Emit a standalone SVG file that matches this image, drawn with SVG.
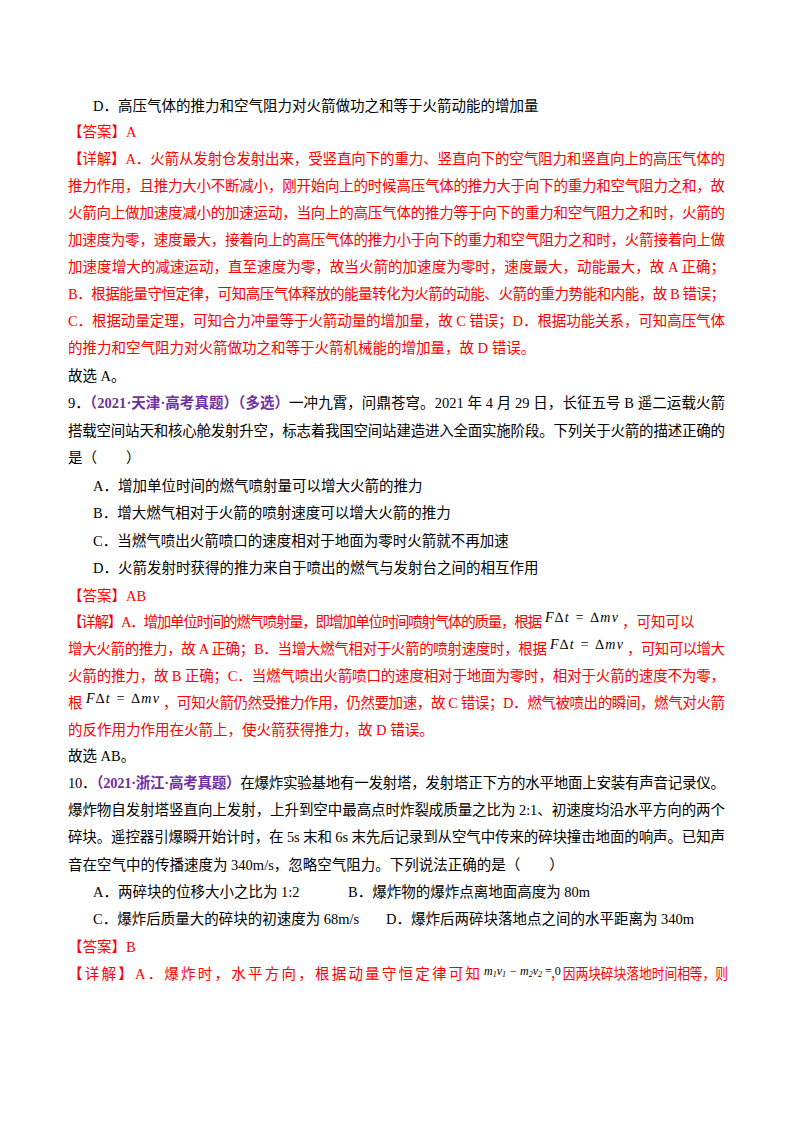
<svg xmlns="http://www.w3.org/2000/svg" width="800" height="1132" viewBox="0 0 800 1132">
<style>
text{font-family:"Liberation Serif","Noto Sans CJK SC",serif;font-size:14.5px;fill:#000}
.r{fill:#f00}
.p{fill:#7030a0;font-weight:bold}
.f{font-style:italic;font-size:14px}
</style>
<rect width="800" height="1132" fill="#fff"/>
<g id="q8">
<text x="93" y="111">D．高压气体的推力和空气阻力对火箭做功之和等于火箭动能的增加量</text>
<text class="r" x="68" y="137">【答案】A</text>
<text class="r" x="68" y="164" textLength="657" lengthAdjust="spacing">【详解】A．火箭从发射仓发射出来，受竖直向下的重力、竖直向下的空气阻力和竖直向上的高压气体的</text>
<text class="r" x="68" y="191" textLength="657" lengthAdjust="spacing">推力作用，且推力大小不断减小，刚开始向上的时候高压气体的推力大于向下的重力和空气阻力之和，故</text>
<text class="r" x="68" y="218" textLength="657" lengthAdjust="spacing">火箭向上做加速度减小的加速运动，当向上的高压气体的推力等于向下的重力和空气阻力之和时，火箭的</text>
<text class="r" x="68" y="245" textLength="657" lengthAdjust="spacing">加速度为零，速度最大，接着向上的高压气体的推力小于向下的重力和空气阻力之和时，火箭接着向上做</text>
<text class="r" x="68" y="272" textLength="657" lengthAdjust="spacing">加速度增大的减速运动，直至速度为零，故当火箭的加速度为零时，速度最大，动能最大，故 A 正确；</text>
<text class="r" x="68" y="299" textLength="657" lengthAdjust="spacing">B．根据能量守恒定律，可知高压气体释放的能量转化为火箭的动能、火箭的重力势能和内能，故 B 错误；</text>
<text class="r" x="68" y="326" textLength="657" lengthAdjust="spacing">C．根据动量定理，可知合力冲量等于火箭动量的增加量，故 C 错误；D．根据功能关系，可知高压气体</text>
<text class="r" x="68" y="353">的推力和空气阻力对火箭做功之和等于火箭机械能的增加量，故 D 错误。</text>
<text x="68" y="381">故选 A。</text>
</g>
<g id="q9">
<text x="68" y="408" textLength="657" lengthAdjust="spacing">9．<tspan class="p">（2021·天津·高考真题）（多选）</tspan>一冲九霄，问鼎苍穹。2021 年 4 月 29 日，长征五号 B 遥二运载火箭</text>
<text x="68" y="436" textLength="657" lengthAdjust="spacing">搭载空间站天和核心舱发射升空，标志着我国空间站建造进入全面实施阶段。下列关于火箭的描述正确的</text>
<text x="68" y="463">是（　　）</text>
<text x="93" y="491">A．增加单位时间的燃气喷射量可以增大火箭的推力</text>
<text x="93" y="518">B．增大燃气相对于火箭的喷射速度可以增大火箭的推力</text>
<text x="93" y="546">C．当燃气喷出火箭喷口的速度相对于地面为零时火箭就不再加速</text>
<text x="93" y="573">D．火箭发射时获得的推力来自于喷出的燃气与发射台之间的相互作用</text>
<text class="r" x="68" y="601">【答案】AB</text>
<text class="r" x="68" y="627" textLength="474" lengthAdjust="spacing">【详解】A．增加单位时间的燃气喷射量，即增加单位时间喷射气体的质量，根据</text>
<text class="f" x="545" y="622" textLength="73" lengthAdjust="spacing">F∆t = ∆mv</text>
<text class="r" x="622" y="627">，可知可以</text>
<text class="r" x="68" y="654" textLength="479" lengthAdjust="spacing">增大火箭的推力，故 A 正确；B．当增大燃气相对于火箭的喷射速度时，根据</text>
<text class="f" x="550" y="649" textLength="73" lengthAdjust="spacing">F∆t = ∆mv</text>
<text class="r" x="627" y="654" textLength="98" lengthAdjust="spacing">，可知可以增大</text>
<text class="r" x="68" y="681" textLength="657" lengthAdjust="spacing">火箭的推力，故 B 正确；C．当燃气喷出火箭喷口的速度相对于地面为零时，相对于火箭的速度不为零，</text>
<text class="r" x="68" y="708">根</text>
<text class="f" x="86" y="703" textLength="73" lengthAdjust="spacing">F∆t = ∆mv</text>
<text class="r" x="163" y="708" textLength="562" lengthAdjust="spacing">，可知火箭仍然受推力作用，仍然要加速，故 C 错误；D．燃气被喷出的瞬间，燃气对火箭</text>
<text class="r" x="68" y="735">的反作用力作用在火箭上，使火箭获得推力，故 D 错误。</text>
<text x="68" y="761">故选 AB。</text>
</g>
<g id="q10">
<text x="68" y="788" textLength="657" lengthAdjust="spacing">10．<tspan class="p">（2021·浙江·高考真题）</tspan>在爆炸实验基地有一发射塔，发射塔正下方的水平地面上安装有声音记录仪。</text>
<text x="68" y="815" textLength="657" lengthAdjust="spacing">爆炸物自发射塔竖直向上发射，上升到空中最高点时炸裂成质量之比为 2:1、初速度均沿水平方向的两个</text>
<text x="68" y="842" textLength="657" lengthAdjust="spacing">碎块。遥控器引爆瞬开始计时，在 5s 末和 6s 末先后记录到从空气中传来的碎块撞击地面的响声。已知声</text>
<text x="68" y="870">音在空气中的传播速度为 340m/s，忽略空气阻力。下列说法正确的是（　　）</text>
<text x="93" y="897">A．两碎块的位移大小之比为 1:2</text>
<text x="348" y="897">B．爆炸物的爆炸点离地面高度为 80m</text>
<text x="93" y="924">C．爆炸后质量大的碎块的初速度为 68m/s</text>
<text x="386" y="924">D．爆炸后两碎块落地点之间的水平距离为 340m</text>
<text class="r" x="68" y="952">【答案】B</text>
<text class="r" x="68" y="979" textLength="412" lengthAdjust="spacing">【详解】A．爆炸时，水平方向，根据动量守恒定律可知</text>
<text class="f" x="484" y="975" style="font-size:12px">m<tspan font-size="8" dy="2">1</tspan><tspan dy="-2">v</tspan><tspan font-size="8" dy="2">1</tspan><tspan dy="-2"> − m</tspan><tspan font-size="8" dy="2">2</tspan><tspan dy="-2">v</tspan><tspan font-size="8" dy="2">2</tspan><tspan dy="-2" font-style="normal"> = 0</tspan></text>
<text class="r" x="550" y="979" textLength="178" lengthAdjust="spacingAndGlyphs">，因两块碎块落地时间相等，则</text>
</g>
</svg>
